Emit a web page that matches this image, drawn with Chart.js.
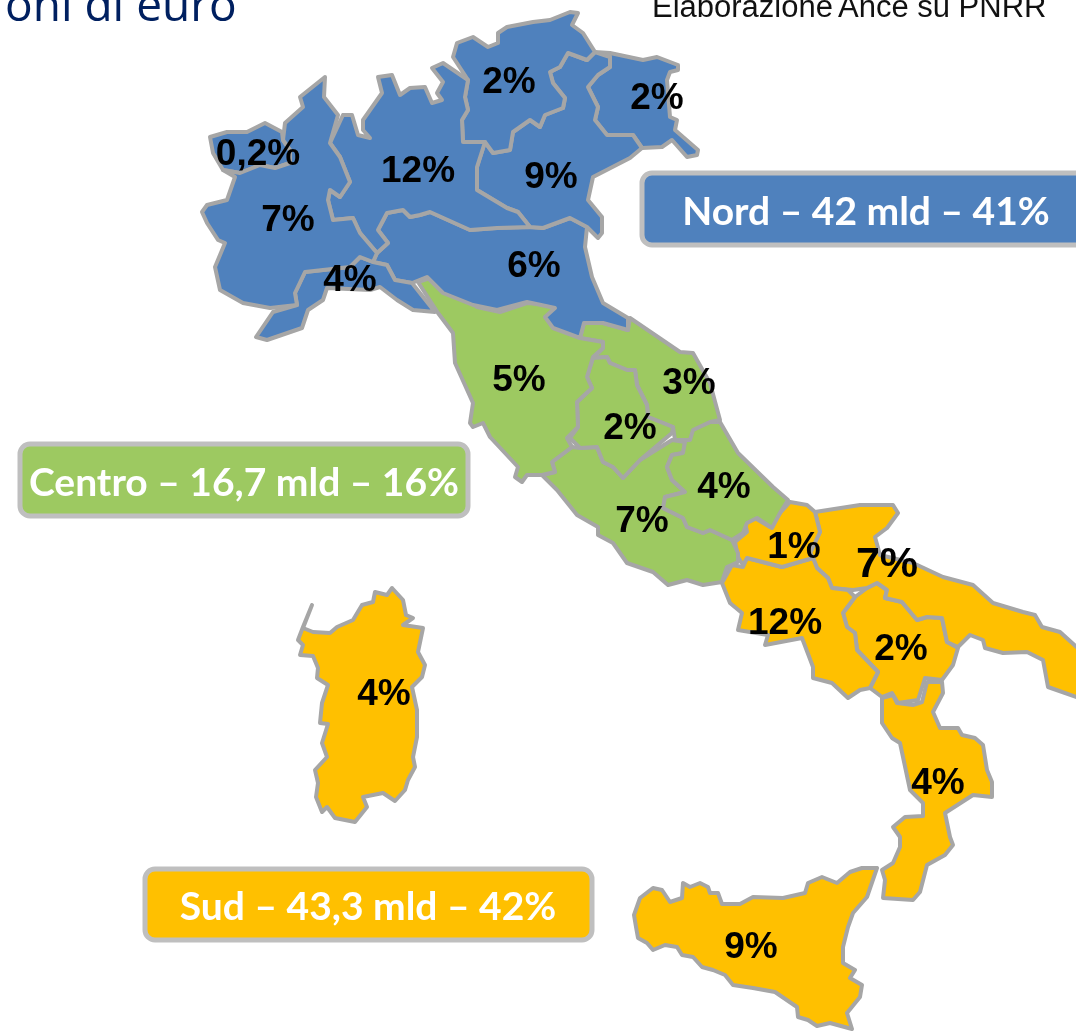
<!DOCTYPE html>
<html lang="it">
<head>
<meta charset="utf-8">
<title>PNRR per regioni</title>
<script src="https://cdn.jsdelivr.net/npm/chart.js@4"></script>
<style>
  html, body { margin: 0; padding: 0; background: #fff; overflow: hidden; }
  #wrap { position: relative; width: 1076px; height: 1031px; }
</style>
</head>
<body>
<div id="wrap"><canvas id="map"></canvas></div>
<script>
// --- region outlines, in map units ---
const valleAosta = [[210,137],[227,132],[247,132],[265,123],[282,132],[283,140],[290,150],[290,163],[275,168],[260,165],[240,173],[223,170],[213,153]];
const piemonte = [[325,77],[324,97],[338,115],[330,143],[340,157],[350,182],[340,197],[330,190],[328,200],[333,220],[353,218],[360,233],[377,253],[373,262],[360,257],[350,267],[305,272],[295,293],[297,305],[270,308],[243,303],[220,290],[215,267],[225,243],[218,240],[207,223],[202,212],[207,205],[227,200],[235,177],[223,170],[240,173],[260,165],[275,168],[290,163],[290,150],[283,140],[285,123],[303,107],[300,97]];
const liguria = [[256,337],[273,312],[297,305],[295,293],[305,272],[350,267],[360,257],[373,262],[387,265],[395,280],[412,283],[435,312],[413,310],[397,300],[380,287],[370,290],[327,288],[323,300],[308,310],[302,328],[267,340]];
const lombardia = [[343,115],[352,115],[358,135],[370,138],[363,130],[363,120],[382,93],[378,77],[392,75],[400,95],[410,88],[425,87],[432,103],[442,100],[437,93],[443,82],[432,68],[443,63],[468,80],[465,97],[468,110],[462,120],[463,142],[485,142],[477,167],[477,190],[507,208],[518,212],[530,227],[497,228],[470,230],[430,212],[420,215],[410,217],[403,210],[387,213],[378,230],[388,243],[377,253],[360,233],[353,218],[333,220],[328,200],[330,190],[340,197],[350,182],[340,157],[330,143]];
const trentino = [[468,80],[453,57],[457,43],[473,37],[488,47],[498,43],[498,33],[507,27],[533,22],[550,20],[570,12],[578,13],[572,25],[583,33],[595,52],[587,60],[568,53],[560,67],[550,72],[553,83],[565,98],[563,108],[545,115],[540,127],[530,120],[513,132],[510,150],[493,153],[485,142],[463,142],[462,120],[468,110],[465,97]];
const veneto = [[568,53],[587,60],[595,52],[610,57],[610,67],[598,75],[588,87],[598,107],[595,120],[607,135],[633,135],[642,148],[630,158],[593,177],[588,200],[602,217],[602,233],[598,238],[587,227],[570,218],[543,228],[530,227],[518,212],[507,208],[477,190],[477,167],[485,142],[493,153],[510,150],[513,132],[530,120],[540,127],[545,115],[563,108],[565,98],[553,83],[550,72],[560,67]];
const friuli = [[595,52],[610,53],[643,60],[657,57],[678,65],[678,70],[670,72],[667,80],[670,117],[677,120],[675,130],[698,150],[697,155],[687,157],[672,140],[662,147],[642,148],[633,135],[607,135],[595,120],[598,107],[588,87],[598,75],[610,67],[610,57]];
const emilia = [[378,230],[387,213],[403,210],[410,217],[420,215],[430,212],[470,230],[497,228],[530,227],[543,228],[570,218],[587,227],[585,247],[592,277],[603,303],[628,318],[628,330],[603,323],[584,323],[580,338],[553,328],[545,317],[555,308],[527,302],[497,310],[473,305],[443,293],[427,277],[412,283],[395,280],[387,265],[373,262],[377,253],[388,243]];
const toscana = [[418,282],[433,277],[450,292],[470,300],[477,307],[500,312],[527,303],[553,305],[562,310],[552,320],[560,330],[580,338],[603,342],[603,348],[593,357],[587,377],[592,388],[577,402],[578,427],[567,438],[572,447],[552,462],[555,472],[542,475],[527,475],[522,482],[515,477],[518,467],[490,437],[483,423],[473,427],[470,423],[473,403],[455,363],[453,333],[438,313]];
const umbria = [[593,358],[607,357],[610,363],[627,370],[635,370],[637,385],[647,405],[648,417],[673,427],[672,433],[640,460],[623,478],[613,467],[603,462],[597,447],[580,448],[570,438],[578,427],[577,402],[592,388],[587,377]];
const marche = [[580,338],[584,323],[603,323],[628,330],[630,318],[680,352],[693,353],[710,383],[720,420],[710,422],[693,430],[690,440],[675,440],[673,427],[648,417],[647,405],[637,385],[635,370],[627,370],[610,363],[607,357],[593,358],[603,348],[603,342]];
const abruzzo = [[720,422],[738,453],[773,487],[788,500],[780,513],[772,528],[757,518],[747,523],[743,533],[732,540],[710,530],[703,533],[687,527],[683,518],[663,508],[665,497],[685,492],[672,480],[667,467],[672,455],[683,453],[685,442],[692,430],[710,422]];
const lazio = [[542,475],[555,472],[552,462],[572,447],[580,448],[597,447],[603,462],[613,467],[623,478],[640,460],[672,440],[685,442],[683,453],[672,455],[667,467],[672,480],[685,492],[665,497],[663,508],[683,518],[687,527],[703,533],[710,530],[732,540],[738,553],[738,562],[727,567],[722,582],[703,585],[687,580],[668,585],[653,572],[627,563],[613,543],[598,535],[598,527],[577,515],[557,490]];
const molise = [[790,502],[807,505],[815,512],[820,532],[810,553],[813,558],[782,567],[747,558],[743,565],[738,557],[735,542],[747,532],[745,522],[755,518],[770,527],[780,513]];
const campania = [[732,565],[743,567],[747,558],[782,567],[813,558],[817,568],[828,578],[832,588],[848,590],[855,597],[843,613],[847,627],[855,633],[857,650],[878,672],[870,688],[860,690],[848,698],[832,683],[813,678],[813,667],[802,638],[765,645],[768,635],[738,630],[742,613],[730,603],[722,583]];
const puglia = [[815,512],[860,505],[893,505],[898,513],[887,528],[875,537],[880,555],[913,563],[943,577],[973,585],[993,603],[1023,612],[1035,615],[1042,627],[1060,632],[1082,652],[1082,699],[1048,687],[1043,660],[1027,652],[1003,653],[985,648],[983,640],[970,635],[958,647],[947,642],[942,618],[927,617],[917,620],[902,602],[885,598],[887,590],[877,583],[867,588],[853,590],[832,588],[828,578],[817,568],[813,558],[810,553],[820,532]];
const basilicata = [[855,597],[867,588],[877,583],[887,590],[885,598],[902,602],[917,620],[927,617],[942,618],[947,642],[958,648],[953,665],[942,680],[925,678],[918,700],[898,703],[892,693],[882,697],[870,688],[878,672],[857,650],[855,633],[847,627],[843,613]];
const calabria = [[882,698],[893,695],[897,703],[913,705],[922,702],[927,682],[942,682],[943,693],[933,712],[940,728],[958,728],[962,735],[975,738],[983,745],[987,770],[992,782],[992,797],[973,795],[945,813],[950,837],[953,845],[945,855],[927,865],[920,892],[913,900],[883,898],[885,880],[882,870],[893,863],[900,847],[900,837],[893,827],[905,817],[923,816],[923,803],[910,790],[903,757],[900,743],[892,738],[882,723]];
const sicilia = [[877,868],[862,868],[850,872],[837,883],[822,877],[808,883],[805,893],[783,898],[753,897],[740,904],[722,904],[718,893],[710,893],[708,887],[700,883],[690,887],[683,883],[682,898],[670,902],[662,890],[653,888],[640,898],[634,915],[636,927],[638,938],[647,943],[653,950],[665,945],[677,947],[682,955],[693,957],[702,967],[713,970],[725,975],[733,985],[753,988],[775,992],[797,1007],[798,1017],[808,1020],[817,1026],[830,1023],[852,1029],[847,1013],[860,997],[862,985],[850,978],[855,970],[843,963],[843,947],[848,927],[853,913],[867,897]];
const sardegna = [[312,605],[303,628],[313,632],[330,633],[337,627],[353,620],[362,605],[373,602],[375,592],[387,595],[392,588],[403,600],[406,615],[413,618],[403,625],[423,628],[418,652],[425,665],[422,677],[412,687],[417,710],[417,737],[413,757],[415,767],[408,780],[405,790],[395,801],[383,793],[363,797],[367,807],[355,822],[335,818],[327,807],[322,812],[316,797],[318,783],[315,770],[327,757],[322,743],[328,724],[320,723],[322,703],[328,685],[317,678],[318,668],[313,656],[300,655],[303,645],[298,640],[303,627]];

// --- macro areas ---
const nordRegions = [piemonte, valleAosta, liguria, lombardia, trentino, veneto, friuli, emilia];
const centroRegions = [toscana, umbria, marche, abruzzo, lazio];
const sudRegions = [molise, campania, puglia, basilicata, calabria, sicilia, sardegna];

// --- share labels: text + anchor on the map ---
const shareLabels = ['0,2%', '7%', '4%', '12%', '2%', '2%', '9%', '6%', '5%', '2%', '3%', '4%', '7%', '1%', '7%', '12%', '2%', '4%', '9%', '4%'];
const shareX = [258, 288, 350, 418, 509, 657, 551, 534, 519, 630, 689, 724, 642, 794, 887, 785, 901, 938, 751, 384];
const shareY = [155, 221, 281, 172, 83, 99, 178, 267, 381, 429, 384, 488, 522, 548, 565, 624, 650, 784, 948, 695];

const areaLabels = ['Nord – 42 mld – 41%', 'Centro – 16,7 mld – 16%', 'Sud – 43,3 mld – 42%'];
const areaCenterX = [866, 244, 368];
const areaCenterY = [212, 483, 907];
const areaLeft = [642, 20, 145];
const areaRight = [1090, 468, 592];
const areaTop = [173, 444, 869];
const areaBottom = [245, 516, 940];

const BLUE = '#4f81bd';
const GREEN = '#9dc961';
const ORANGE = '#ffc000';
const OUTLINE = '#a6a6a6';
const areaColors = [BLUE, GREEN, ORANGE];

function regionDataset(pts, color) {
  return {
    data: pts.concat([pts[0]]),
    showLine: true,
    fill: 'shape',
    backgroundColor: color,
    borderColor: OUTLINE,
    borderWidth: 4,
    borderJoinStyle: 'round',
    borderCapStyle: 'round',
    pointRadius: 0,
    tension: 0,
    clip: false,
  };
}

// text and boxes, placed through the chart scales
const mapText = {
  id: 'mapText',
  afterDatasetsDraw(chart) {
    const ctx = chart.ctx;
    const sx = chart.scales.x;
    const sy = chart.scales.y;
    ctx.save();

    ctx.textAlign = 'center';
    ctx.textBaseline = 'middle';
    ctx.fillStyle = '#000';
    shareLabels.forEach((t, i) => {
      // the Puglia label is set bigger in the source
      ctx.font = i === 14 ? 'bold 43px "Liberation Sans"' : 'bold 37px "Liberation Sans"';
      ctx.fillText(t, sx.getPixelForValue(shareX[i]), sy.getPixelForValue(shareY[i]));
    });

    areaLabels.forEach((t, i) => {
      const x0 = sx.getPixelForValue(areaLeft[i]);
      const y0 = sy.getPixelForValue(areaTop[i]);
      const w = sx.getPixelForValue(areaRight[i]) - x0;
      const h = sy.getPixelForValue(areaBottom[i]) - y0;
      ctx.beginPath();
      ctx.roundRect(x0, y0, w, h, 10);
      ctx.fillStyle = areaColors[i];
      ctx.fill();
      ctx.lineWidth = 5;
      ctx.strokeStyle = '#bfbfbf';
      ctx.stroke();
      ctx.fillStyle = '#fff';
      ctx.font = 'bold 39px Lato';
      ctx.fillText(t, sx.getPixelForValue(areaCenterX[i]), sy.getPixelForValue(areaCenterY[i]));
    });

    // header, cut by the top edge like in the source slide
    ctx.textAlign = 'left';
    ctx.textBaseline = 'alphabetic';
    ctx.fillStyle = '#002060';
    ctx.font = '46px "Open Sans"';
    ctx.fillText('oni di euro', 5, 21);
    ctx.fillStyle = '#111';
    ctx.font = '31px "Liberation Sans"';
    ctx.fillText('Elaborazione', 652, 17);
    ctx.fillText('Ance su PNRR', 838, 17);
    ctx.restore();
  },
};

new Chart(document.getElementById('map'), {
  type: 'scatter',
  data: {
    datasets: [
      ...nordRegions.map(r => regionDataset(r, BLUE)),
      ...centroRegions.map(r => regionDataset(r, GREEN)),
      ...sudRegions.map(r => regionDataset(r, ORANGE)),
    ],
  },
  options: {
    responsive: true,
    maintainAspectRatio: false,
    animation: false,
    layout: { padding: 0 },
    plugins: { legend: { display: false }, tooltip: { enabled: false } },
    scales: {
      x: { type: 'linear', min: 0, max: 1076, display: false },
      y: { type: 'linear', min: 0, max: 1031, reverse: true, display: false },
    },
  },
  plugins: [mapText],
});
</script>
</body>
</html>
